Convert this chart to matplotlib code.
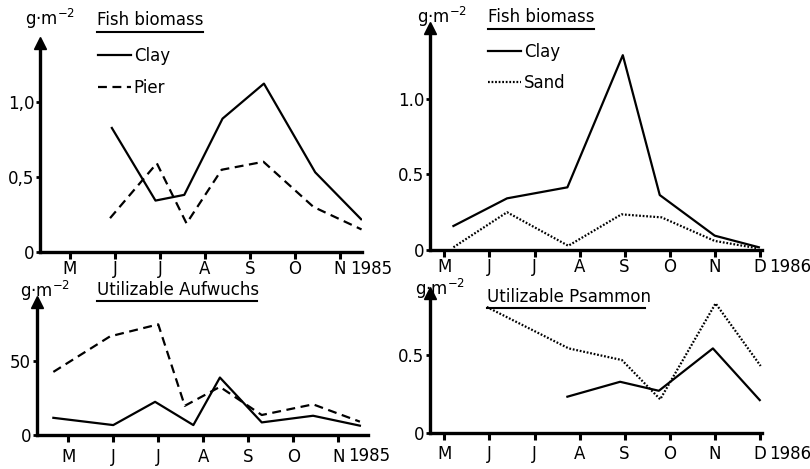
import matplotlib
matplotlib.use("Agg")
import matplotlib.pyplot as plt
from matplotlib.lines import Line2D

W, H = 810, 469

# Monate (Index 0 = M)
months85 = ["M", "J", "J", "A", "S", "O", "N"]
months86 = ["M", "J", "J", "A", "S", "O", "N", "D"]

# Oben links: Fish biomass 1985
clay85_x = [0.93, 1.90, 2.54, 3.39, 4.31, 5.45, 6.47]
clay85 = [0.825, 0.342, 0.38, 0.887, 1.12, 0.53, 0.218]
pier85_x = [0.89, 1.93, 2.59, 3.37, 4.30, 5.41, 6.48]
pier85 = [0.225, 0.59, 0.19, 0.547, 0.60, 0.30, 0.15]

# Oben rechts: Fish biomass 1986
clay86_x = [0.20, 1.39, 2.73, 3.96, 4.78, 6.00, 6.98]
clay86 = [0.159, 0.342, 0.415, 1.29, 0.364, 0.095, 0.018]
sand86_x = [0.20, 1.39, 2.75, 3.93, 4.82, 6.00, 6.96]
sand86 = [0.018, 0.25, 0.028, 0.236, 0.216, 0.06, 0.011]

# Unten links: Utilizable Aufwuchs 1985
auf_clay_x = [-0.33, 1.00, 1.93, 2.78, 3.37, 4.30, 5.44, 6.48]
auf_clay = [11.6, 6.7, 22.4, 6.7, 38.8, 8.5, 13.0, 6.3]
auf_pier_x = [-0.33, 0.93, 2.00, 2.59, 3.37, 4.30, 5.44, 6.48]
auf_pier = [42.6, 66.6, 74.7, 19.7, 32.5, 13.5, 20.7, 9.0]

# Unten rechts: Utilizable Psammon 1986
psam_clay_x = [2.73, 3.90, 4.76, 5.96, 7.00]
psam_clay = [0.232, 0.328, 0.27, 0.543, 0.21]
psam_sand_x = [0.94, 2.76, 3.94, 4.79, 6.02, 7.02]
psam_sand = [0.81, 0.543, 0.468, 0.215, 0.833, 0.43]

FS = 12
plt.rcParams["font.family"] = ["DejaVu Sans"]
plt.rcParams["font.size"] = FS

fig = plt.figure(figsize=(W / 100, H / 100), dpi=100)


def rect(left, right, bottom, top):
    # Pixelkoordinaten (von oben) -> Figurenanteile
    return [left / W, 1 - bottom / H, (right - left) / W, (bottom - top) / H]


def fx(x):
    return x / W


def fy(y):
    return 1 - y / H


def make_axes(r, xlim, ylim, months, yticks, ylabels, year, pad=2):
    ax = fig.add_axes(r)
    ax.set_xlim(*xlim)
    ax.set_ylim(*ylim)
    for s in ("top", "right"):
        ax.spines[s].set_visible(False)
    for s in ("left", "bottom"):
        ax.spines[s].set_linewidth(2.4)
    ax.set_xticks(range(len(months)))
    ax.set_xticklabels(months)
    ax.set_yticks(yticks)
    ax.set_yticklabels(ylabels)
    ax.tick_params(axis="x", direction="out", length=5, width=2.2, pad=pad)
    ax.tick_params(axis="y", direction="out", length=3, width=2.0, pad=1)
    ax.patch.set_visible(False)
    # Pfeil an der y-Achse
    ax.plot([0], [1], marker="^", ms=8, color="k", transform=ax.transAxes,
            clip_on=False)
    ax.annotate(year, xy=(len(months) - 1, 0), xycoords=("data", "axes fraction"),
                xytext=(7, -4.5 - pad), textcoords="offset points",
                va="top", ha="left")
    return ax


def title(x0, x1, y, text, ul=12):
    fig.text(fx(x0), fy(y), text, ha="left", va="center")
    fig.add_artist(Line2D([fx(x0), fx(x1)], [fy(y + ul), fy(y + ul)],
                          color="k", lw=1.5))


lw = 1.6

# Oben links
ax1 = make_axes(rect(40, 362, 252, 43), (-0.667, 6.49), (0, 1.39),
                months85, [0, 0.5, 1.0], ["0", "0,5", "1,0"], "1985", pad=1)
ax1.plot(clay85_x, clay85, "k-", lw=lw, label="Clay")
ax1.plot(pier85_x, pier85, "k", lw=lw, ls=(0, (4, 2.5)), label="Pier")
fig.text(fx(25), fy(19), "g·m$^{-2}$", ha="left", va="center")
title(97, 203, 20, "Fish biomass")
ax1.legend(loc="upper left", bbox_to_anchor=(fx(98), fy(47)),
           bbox_transform=fig.transFigure, frameon=False, borderpad=0,
           handlelength=2.0, handletextpad=0.15, labelspacing=0.85,
           borderaxespad=0)

# Oben rechts
ax2 = make_axes(rect(430, 762, 250, 28), (-0.32, 7.05), (0, 1.47),
                months86, [0, 0.5, 1.0], ["0", "0.5", "1.0"], "1986", pad=1)
ax2.plot(clay86_x, clay86, "k-", lw=lw, label="Clay")
ax2.plot(sand86_x, sand86, "k", lw=lw, ls=(0, (0.8, 0.8)), label="Sand")
fig.text(fx(417), fy(17), "g·m$^{-2}$", ha="left", va="center")
title(488, 594, 17, "Fish biomass")
ax2.legend(loc="upper left", bbox_to_anchor=(fx(488), fy(43)),
           bbox_transform=fig.transFigure, frameon=False, borderpad=0,
           handlelength=2.0, handletextpad=0.15, labelspacing=0.75,
           borderaxespad=0)

# Unten links
ax3 = make_axes(rect(36.7, 368, 435, 301.7), (-0.70, 6.66), (0, 90),
                months85, [0, 50], ["0", "50"], "1985", pad=4)
ax3.plot(auf_clay_x, auf_clay, "k-", lw=lw)
ax3.plot(auf_pier_x, auf_pier, "k", lw=lw, ls=(0, (4, 2.5)))
fig.text(fx(20), fy(291), "g·m$^{-2}$", ha="left", va="center")
title(97, 257, 290, "Utilizable Aufwuchs", ul=11)

# Unten rechts
ax4 = make_axes(rect(430, 762, 432.7, 293), (-0.32, 7.05), (0, 0.9),
                months86, [0, 0.5], ["0", "0.5"], "1986", pad=4)
ax4.plot(psam_clay_x, psam_clay, "k-", lw=lw)
ax4.plot(psam_sand_x, psam_sand, "k", lw=lw, ls=(0, (0.8, 0.8)))
fig.text(fx(415), fy(289), "g·m$^{-2}$", ha="left", va="center")
title(487, 645, 297, "Utilizable Psammon", ul=11)

fig.savefig("out.png", dpi=100)
